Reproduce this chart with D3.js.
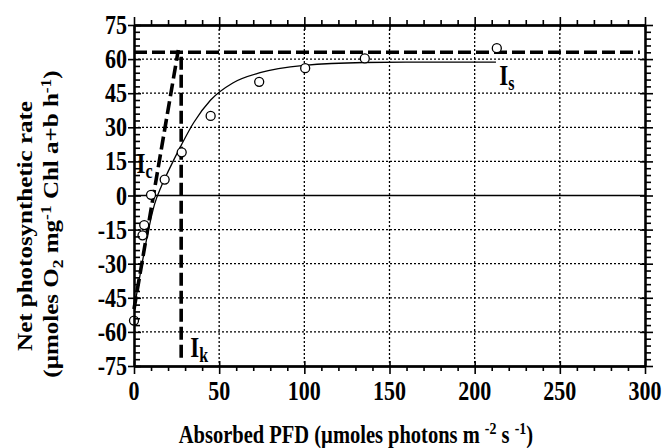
<!DOCTYPE html>
<html>
<head>
<meta charset="utf-8">
<script src="https://cdn.jsdelivr.net/npm/d3@7"></script>
<style>
    body { margin: 0; padding: 0; background: #fff; }
    svg { display: block; }
    text { font-family: 'Liberation Serif', 'Times New Roman', serif; font-weight: bold; fill: #000; }
</style>
</head>
<body>
<script>

// measured points
var obsPFD = [0, 5, 6, 10, 18, 28, 45, 73.5, 100.5, 135.5, 213]
var obsRate = [-55, -17.5, -13, 0.3, 7, 19, 35, 50, 56, 60.3, 64.8]

// fitted curve
var fitPFD = [0, 4, 8, 12, 16, 20, 28, 35, 45, 58, 74, 100, 135, 170, 212.5]
var fitRate = [-50, -33, -17, -4, 4, 10.5, 22.5, 32, 42, 49.5, 54, 57.2, 58.5, 58.7, 58.7]

// dashed construction lines
var alphaPFD = [0, 26]
var alphaRate = [-50, 64]
var pmaxPFD = [0, 297]
var pmaxRate = [63, 63]
var ikPFD = [27.7, 27.7]
var ikRate = [61, -72]

var xTickValues = [0, 50, 100, 150, 200, 250, 300]
var yTickValues = [-75, -60, -45, -30, -15, 0, 15, 30, 45, 60, 75]

var chartAreaWidth = 667
var chartAreaHeight = 448
var margin = { top: 25, right: 22, bottom: 82, left: 134 }
var stretch = 1.25   // the figure's lettering is tall and narrow

var svg = d3.select('body')
            .append('svg')
                .attr('width', chartAreaWidth)
                .attr('height', chartAreaHeight)

var xscale = d3.scaleLinear()
                .domain([0, 300])
                .range([margin.left, chartAreaWidth - margin.right])

var yscale = d3.scaleLinear()
                .domain([-75, 75])
                .range([chartAreaHeight - margin.bottom, margin.top])

var minorX = d3.range(0, 301, 10).filter(v => v % 50 != 0)
var minorY = d3.range(-75, 76, 3).filter(v => v % 15 != 0)

function drawGrid() {
    var g = svg.append('g').attr('stroke', '#000').attr('stroke-width', 1.3)

    g.selectAll('.vgrid')
        .data(xTickValues.filter(v => v > 0 && v < 300))
        .enter()
            .append('line')
                .attr('x1', d => xscale(d)).attr('x2', d => xscale(d))
                .attr('y1', yscale(75)).attr('y2', yscale(-75))
                .attr('stroke-dasharray', '2,2')

    g.selectAll('.hgrid')
        .data(yTickValues.filter(v => v > -75 && v < 75 && v != 0))
        .enter()
            .append('line')
                .attr('x1', xscale(0)).attr('x2', xscale(300))
                .attr('y1', d => yscale(d)).attr('y2', d => yscale(d))
                .attr('stroke-dasharray', '2,2')

    // zero line is solid
    g.append('line')
        .attr('x1', xscale(0)).attr('x2', xscale(300))
        .attr('y1', yscale(0)).attr('y2', yscale(0))
        .attr('stroke-width', 1.4)
}

function addAxis(axis, tx, ty) {
    var g = svg.append('g')
                .attr('transform', 'translate(' + tx + ',' + ty + ')')
                .call(axis.tickFormat('').tickSizeOuter(0))
    g.selectAll('line').attr('stroke-width', 1.6)
    g.select('.domain').attr('stroke-width', 1.8)
    g.selectAll('text').remove()
}

function drawAxix() {
    var left = xscale(0), right = xscale(300), top = yscale(75), bottom = yscale(-75)

    // bottom
    addAxis(d3.axisBottom(xscale).tickValues(xTickValues).tickSizeInner(8), 0, bottom)
    addAxis(d3.axisBottom(xscale).tickValues(xTickValues).tickSizeInner(-5), 0, bottom)
    addAxis(d3.axisBottom(xscale).tickValues(minorX).tickSizeInner(5), 0, bottom)
    // top
    addAxis(d3.axisTop(xscale).tickValues(xTickValues).tickSizeInner(8), 0, top)
    addAxis(d3.axisTop(xscale).tickValues(xTickValues).tickSizeInner(-5), 0, top)
    addAxis(d3.axisTop(xscale).tickValues(minorX).tickSizeInner(5), 0, top)
    // left, minor ticks point inside
    addAxis(d3.axisLeft(yscale).tickValues(yTickValues).tickSizeInner(6), left, 0)
    addAxis(d3.axisLeft(yscale).tickValues(yTickValues).tickSizeInner(-7), left, 0)
    addAxis(d3.axisLeft(yscale).tickValues(minorY).tickSizeInner(-6), left, 0)
    // right, minor ticks point outside
    addAxis(d3.axisRight(yscale).tickValues(yTickValues).tickSizeInner(8), right, 0)
    addAxis(d3.axisRight(yscale).tickValues(yTickValues).tickSizeInner(-5), right, 0)
    addAxis(d3.axisRight(yscale).tickValues(minorY).tickSizeInner(6), right, 0)

    // tick labels
    svg.selectAll('.xlabel')
        .data(xTickValues)
        .enter()
            .append('text')
                .attr('transform', d => 'translate(' + xscale(d) + ',' + (bottom + 34) + ') scale(1,' + stretch + ')')
                .attr('text-anchor', 'middle')
                .style('font-size', '22px')
                .text(d => d)

    svg.selectAll('.ylabel')
        .data(yTickValues)
        .enter()
            .append('text')
                .attr('transform', d => 'translate(' + (left - 7) + ',' + (yscale(d) + 9) + ') scale(1,' + stretch + ')')
                .attr('text-anchor', 'end')
                .style('font-size', '22px')
                .text(d => d)
}

function drawTitles() {
    var xt = svg.append('text')
                .attr('transform', 'translate(356,443) scale(1,' + stretch + ')')
                .attr('text-anchor', 'middle')
                .style('font-size', '20.5px')
    xt.append('tspan').text('Absorbed PFD (\u00b5moles photons m ')
    xt.append('tspan').attr('dy', -7).style('font-size', '14px').text('-2')
    xt.append('tspan').attr('dy', 7).text(' s ')
    xt.append('tspan').attr('dy', -7).style('font-size', '14px').text('-1')
    xt.append('tspan').attr('dy', 7).text(')')

    svg.append('text')
        .attr('transform', 'translate(32,226) scale(1,' + stretch + ') rotate(-90)')
        .attr('text-anchor', 'middle')
        .style('font-size', '20px')
        .text('Net photosynthetic rate')

    var yt = svg.append('text')
                .attr('transform', 'translate(58,224) scale(1,' + stretch + ') rotate(-90)')
                .attr('text-anchor', 'middle')
                .style('font-size', '20px')
    yt.append('tspan').text('(\u00b5moles O')
    yt.append('tspan').attr('dy', 5).style('font-size', '14px').text('2')
    yt.append('tspan').attr('dy', -5).text(' mg')
    yt.append('tspan').attr('dy', -7).style('font-size', '14px').text('-1')
    yt.append('tspan').attr('dy', 7).text(' Chl a+b h')
    yt.append('tspan').attr('dy', -7).style('font-size', '14px').text('-1')
    yt.append('tspan').attr('dy', 7).text(')')
}

function drawChart() {
    var line = d3.line()
                .x(d => xscale(d[0]))
                .y(d => yscale(d[1]))

    var dashed = [d3.zip(alphaPFD, alphaRate), d3.zip(pmaxPFD, pmaxRate), d3.zip(ikPFD, ikRate)]
    svg.selectAll('.dashline')
        .data(dashed)
        .enter()
            .append('path')
                .attr('d', line)
                .attr('fill', 'none')
                .attr('stroke', '#000')
                .attr('stroke-width', 3.6)
                .attr('stroke-dasharray', '13,5')

    svg.append('path')
        .datum(d3.zip(fitPFD, fitRate))
        .attr('d', line.curve(d3.curveMonotoneX))
        .attr('fill', 'none')
        .attr('stroke', '#000')
        .attr('stroke-width', 1.3)

    svg.selectAll('.obs')
        .data(d3.zip(obsPFD, obsRate))
        .enter()
            .append('circle')
                .attr('cx', d => xscale(d[0]))
                .attr('cy', d => yscale(d[1]))
                .attr('r', 4.5)
                .attr('fill', '#fff')
                .attr('stroke', '#000')
                .attr('stroke-width', 1.3)
}

function drawMarkers() {
    // I_c, I_s, I_k labels
    var marks = [['c', 1.5, 10], ['s', 214.5, 48.5], ['k', 33, -71]]
    marks.forEach(function(m) {
        var t = svg.append('text')
                    .attr('transform', 'translate(' + xscale(m[1]) + ',' + yscale(m[2]) + ') scale(1,' + stretch + ')')
                    .style('font-size', '23px')
        t.append('tspan').text('I')
        t.append('tspan').attr('dy', 4).style('font-size', '16px').text(m[0])
    })
}

drawGrid()
drawChart()
drawAxix()
drawTitles()
drawMarkers()

</script>
</body>
</html>
